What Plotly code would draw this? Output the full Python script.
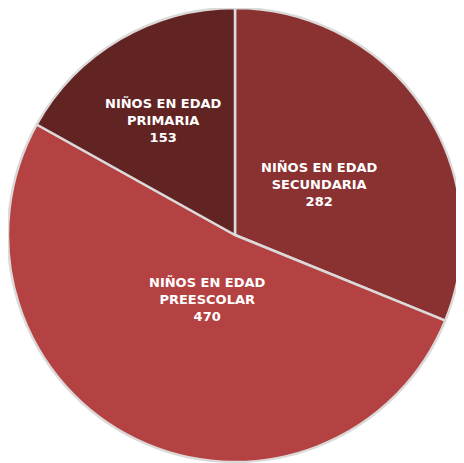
import math
import plotly.graph_objects as go

# data
categorias = ["NIÑOS EN EDAD<br>SECUNDARIA", "NIÑOS EN EDAD<br>PREESCOLAR", "NIÑOS EN EDAD<br>PRIMARIA"]
valores = [282, 470, 153]
colores = ["#8a3131", "#b54242", "#622323"]
# label distance from centre, as fraction of radius (Excel "best fit" look)
radio_etiqueta = [0.45, 0.28, 0.62]

fig = go.Figure()
fig.add_trace(go.Pie(
    labels=categorias,
    values=valores,
    sort=False,
    direction="clockwise",
    rotation=0,
    marker=dict(colors=colores, line=dict(color="#dcd9d9", width=2.5)),
    textinfo="none",
    hoverinfo="label+value",
    showlegend=False,
    domain=dict(x=[0, 1], y=[0, 1]),
))

# labels at slice mid-angles
total = sum(valores)
acum = 0
for cat, val, r in zip(categorias, valores, radio_etiqueta):
    mid = (acum + val / 2) / total * 2 * math.pi
    acum += val
    fig.add_annotation(
        x=0.5 + r * math.sin(mid) / 2,
        y=0.5 + r * math.cos(mid) / 2 - 0.015,
        xref="paper", yref="paper",
        xanchor="center", yanchor="middle",
        text="<b>%s<br>%d</b>" % (cat, val),
        showarrow=False,
        font=dict(family="DejaVu Sans", size=13, color="white"),
        align="center",
    )

fig.update_layout(
    width=456, height=455,
    margin=dict(l=0, r=2, t=0, b=1),
    paper_bgcolor="white",
    plot_bgcolor="white",
    font=dict(family="DejaVu Sans"),
)

fig.write_html("out.html")
